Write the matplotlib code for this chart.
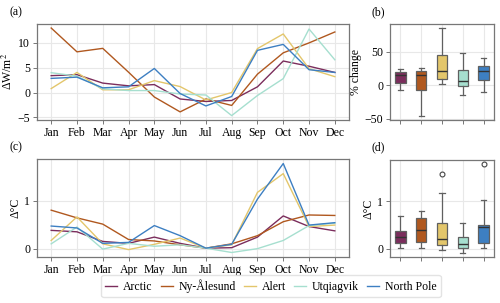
import numpy as np
import matplotlib.pyplot as plt

plt.rcParams['font.family'] = ['Liberation Serif', 'DejaVu Serif']
plt.rcParams['mathtext.fontset'] = 'stix'
plt.rcParams['font.size'] = 8.5

months = ['Jan', 'Feb', 'Mar', 'Apr', 'May', 'Jun', 'Jul', 'Aug', 'Sep', 'Oct', 'Nov', 'Dec']
stations = ['Arctic', 'Ny-Ålesund', 'Alert', 'Utqiagvik', 'North Pole']
colors = ['#7b2d5c', '#b0581f', '#e3c66b', '#a6dfcf', '#3d7fc2']

# forcing change, W/m2
flux = {
    'Arctic':     [3.4, 3.6, 1.9, 1.35, 1.6, -1.3, -1.8, -1.6, 1.15, 6.35, 5.3, 4.05],
    'Ny-Ålesund': [13.0, 8.2, 8.9, 4.1, -0.9, -3.9, -1.3, -2.6, 3.7, 8.0, 10.0, 12.2],
    'Alert':      [0.8, 4.05, 0.55, 0.55, 2.4, 1.2, -1.5, 0.0, 8.85, 11.8, 4.8, 3.2],
    'Utqiagvik':  [4.0, 3.3, 0.75, 0.4, 0.4, -0.3, -0.5, -4.65, -0.6, 2.8, 12.8, 6.6],
    'North Pole': [2.85, 3.1, 0.95, 1.15, 4.85, -0.2, -2.7, -0.8, 8.5, 9.7, 4.6, 4.05],
}

# temperature change, degC
temp = {
    'Arctic':     [0.38, 0.35, 0.15, 0.11, 0.24, 0.11, 0.01, 0.02, 0.24, 0.68, 0.46, 0.37],
    'Ny-Ålesund': [0.80, 0.64, 0.51, 0.19, 0.16, 0.08, 0.01, 0.10, 0.27, 0.56, 0.70, 0.69],
    'Alert':      [0.17, 0.66, 0.10, -0.02, 0.09, 0.22, 0.01, 0.08, 1.17, 1.56, 0.46, 0.49],
    'Utqiagvik':  [0.10, 0.45, -0.01, 0.11, 0.05, 0.08, 0.01, -0.08, 0.00, 0.17, 0.48, 0.53],
    'North Pole': [0.47, 0.43, 0.11, 0.13, 0.48, 0.27, 0.01, 0.09, 1.03, 1.77, 0.49, 0.54],
}

# % change box stats
pct_med = [14.9, 15.8, 20.8, 6.4, 20.8]
pct_q1 = [4.0, -7.4, 8.9, -1.0, 7.9]
pct_q3 = [19.8, 21.8, 45.5, 22.8, 29.0]
pct_lo = [-7.4, -45.0, 1.5, -14.4, -10.4]
pct_hi = [23.8, 26.0, 85.0, 47.5, 41.0]

spine_col = '#777777'
grid_col = '#e8e8e8'


def style(ax):
    ax.set_facecolor('white')
    ax.grid(True, color=grid_col, lw=0.8)
    ax.set_axisbelow(True)
    for s in ax.spines.values():
        s.set_color(spine_col)
        s.set_linewidth(0.9)
    ax.tick_params(colors='black', length=3, width=0.7, pad=2)
    ax.tick_params(axis='both', color=spine_col)


fig = plt.figure(figsize=(5.0, 3.03), dpi=100)
ax_a = fig.add_axes([0.074, 0.604, 0.624, 0.318])
ax_b = fig.add_axes([0.780, 0.604, 0.208, 0.318])
ax_c = fig.add_axes([0.074, 0.152, 0.624, 0.323])
ax_d = fig.add_axes([0.780, 0.152, 0.208, 0.320])

x = np.arange(len(months))
for st, c in zip(stations, colors):
    ax_a.plot(x, flux[st], color=c, lw=1.0, label=st)
    ax_c.plot(x, temp[st], color=c, lw=1.0)

for ax in (ax_a, ax_c):
    style(ax)
    ax.set_xticks(x)
    ax.set_xticklabels(months)
ax_a.set_yticks([-5, 0, 5, 10])
ax_a.set_yticklabels(['−5', '0', '5', '10'])
ax_a.set_ylabel('ΔW/m$^2$', labelpad=2)
ax_c.set_yticks([0, 1])
ax_c.set_ylabel('Δ°C', labelpad=2)

# (b) box plot from stats
stats = []
for i in range(len(stations)):
    stats.append({'med': pct_med[i], 'q1': pct_q1[i], 'q3': pct_q3[i],
                  'whislo': pct_lo[i], 'whishi': pct_hi[i], 'fliers': []})

box_kw = dict(widths=0.5, patch_artist=True,
              medianprops=dict(color='#333333', lw=1.0),
              whiskerprops=dict(color='#606060', lw=0.9),
              capprops=dict(color='#606060', lw=0.9),
              boxprops=dict(edgecolor='#606060', lw=0.9),
              flierprops=dict(marker='o', markersize=3.5, markerfacecolor='white',
                              markeredgecolor='#444444', markeredgewidth=0.8))

bp = ax_b.bxp(stats, positions=range(len(stations)), **box_kw)
for patch, c in zip(bp['boxes'], colors):
    patch.set_facecolor(c)

bp2 = ax_d.boxplot([temp[st] for st in stations], positions=range(len(stations)), **box_kw)
for patch, c in zip(bp2['boxes'], colors):
    patch.set_facecolor(c)

for ax in (ax_b, ax_d):
    style(ax)
    ax.set_xticks(range(len(stations)))
    ax.set_xticklabels([])
    ax.set_xlim(-0.5, 4.5)
ax_b.set_yticks([-50, 0, 50])
ax_b.set_yticklabels(['−50', '0', '50'])
ax_b.set_ylabel('% change', labelpad=2)
ax_d.set_yticks([0, 1])
ax_d.set_ylabel('Δ°C', labelpad=2)

fig.text(0.018, 0.96, '(a)', fontsize=8.5, va='center')
fig.text(0.742, 0.96, '(b)', fontsize=8.5, va='center')
fig.text(0.018, 0.515, '(c)', fontsize=8.5, va='center')
fig.text(0.742, 0.515, '(d)', fontsize=8.5, va='center')

handles, labels = ax_a.get_legend_handles_labels()
fig.legend(handles, labels, loc='center', bbox_to_anchor=(0.542, 0.056), ncol=5,
           frameon=True, fontsize=8.5, handlelength=1.0, handletextpad=0.5,
           columnspacing=0.7, borderpad=0.35, edgecolor='#dddddd')

fig.savefig('out.png', dpi=100)
